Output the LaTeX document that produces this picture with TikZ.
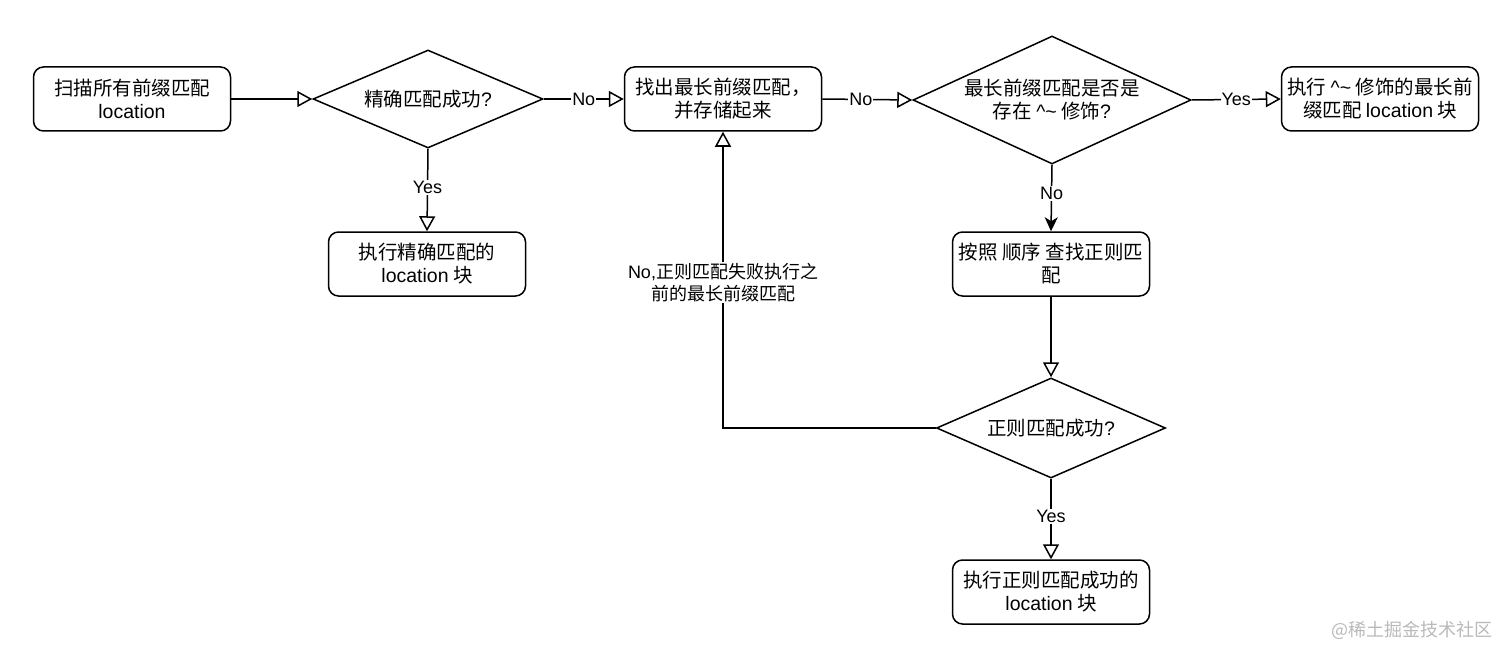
\documentclass[tikz,border=0pt]{standalone}
\usepackage{fontspec}
\setmainfont{Noto Sans CJK SC}
\newfontfamily\lat{Liberation Sans}
\usetikzlibrary{shapes.geometric,arrows.meta}
\begin{document}
\begin{tikzpicture}[x=1pt,y=-1pt,
  box/.style={draw, rounded corners=10pt, minimum width=197pt, minimum height=64pt,
    line width=1.5pt, align=center, font=\fontsize{19.5}{23}\selectfont, inner sep=1pt},
  dia/.style={draw, diamond, line width=1.5pt, align=center, inner sep=0pt,
    font=\fontsize{19.5}{23}\selectfont, aspect=2.4},
  conn/.style={line width=1.5pt, -{Triangle[open,length=15pt,width=16pt,line width=1.5pt]}},
  connf/.style={line width=1.5pt, -{Stealth[length=14pt,width=13pt,inset=4pt]}},
  lbl/.style={fill=white, inner sep=1pt, font=\fontsize{18}{22}\selectfont, align=center}
]
\useasboundingbox (0,0) rectangle (1512,658);

\node[box] (A) at (132,99) {扫描所有前缀匹配\\{\lat location}};
\node[dia, minimum width=230pt, minimum height=98pt] (D1) at (428,99) {精确匹配成功{\lat ?}};
\node[box] (B) at (427,264) {执行精确匹配的\\{\lat location} 块};
\node[box] (C) at (723,99) {找出最长前缀匹配，\\并存储起来};
\node[dia, minimum width=278pt, minimum height=128pt] (D2) at (1052,100) {最长前缀匹配是否是\\存在 {\lat \^{}\~{}} 修饰{\lat ?}};
\node[box] (E) at (1380,99) {执行 {\lat \^{}\~{}} 修饰的最长前\\缀匹配 {\lat location} 块};
\node[box] (F) at (1051,264) {按照 顺序 查找正则匹\\配};
\node[dia, minimum width=229pt, minimum height=100pt] (D3) at (1051,428) {正则匹配成功{\lat ?}};
\node[box] (G) at (1051,592) {执行正则匹配成功的\\{\lat location} 块};

\draw[conn] (A) -- (D1.west);
\draw[conn] (D1.east) -- node[lbl]{\lat No} (C.west);
\draw[conn] (D1.south) -- node[lbl, pos=0.47]{\lat Yes} (B.north);
\draw[conn] (C.east) -- node[lbl, pos=0.43]{\lat No} (D2.west);
\draw[conn] (D2.east) -- node[lbl]{\lat Yes} (E.west);
\draw[connf] (D2.south) -- node[lbl, pos=0.43]{\lat No} (F.north);
\draw[conn] (F.south) -- (D3.north);
\draw[conn] (D3.south) -- node[lbl, pos=0.47]{\lat Yes} (G.north);
\draw[conn] (D3.west) -| node[lbl, pos=0.745]{{\lat No,}正则匹配失败执行之\\前的最长前缀匹配} (C.south);

\node[text=gray!55, font=\fontsize{18}{20}\selectfont] (wm) at (1412,630) {@稀土掘金技术社区};
\end{tikzpicture}
\end{document}
